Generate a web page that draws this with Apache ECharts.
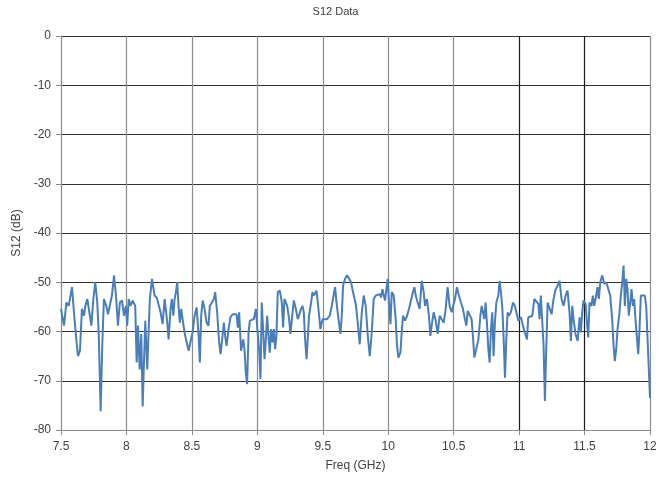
<!DOCTYPE html>
<html>
<head>
<meta charset="utf-8">
<title>S12 Data</title>
<script src="https://cdn.jsdelivr.net/npm/echarts@6/dist/echarts.min.js"></script>
<style>
  html, body { margin: 0; padding: 0; background: #fff; }
  #chart { width: 671px; height: 477px; }
</style>
</head>
<body>
<div id="chart"></div>
<script>
// Swept frequency points (GHz)
const freqGHz = [
  7.500, 7.523, 7.541, 7.559, 7.566, 7.584, 7.599, 7.617, 7.630, 7.645,
  7.660, 7.676, 7.686, 7.701, 7.716, 7.732, 7.747, 7.762, 7.777, 7.788,
  7.803, 7.815, 7.828, 7.846, 7.859, 7.874, 7.889, 7.905, 7.920, 7.935,
  7.950, 7.966, 7.981, 7.996, 8.006, 8.017, 8.032, 8.047, 8.057, 8.067,
  8.078, 8.088, 8.101, 8.113, 8.124, 8.134, 8.144, 8.159, 8.170, 8.179,
  8.195, 8.215, 8.231,
  8.246, 8.261, 8.276, 8.292, 8.302, 8.312, 8.322, 8.337, 8.347, 8.358,
  8.368, 8.378, 8.388, 8.398, 8.408, 8.419, 8.429, 8.444, 8.460, 8.475,
  8.490, 8.505, 8.521, 8.536, 8.551, 8.561, 8.571, 8.582, 8.597, 8.612,
  8.627, 8.637, 8.653, 8.668, 8.678, 8.693, 8.708, 8.719, 8.734, 8.744,
  8.754, 8.765, 8.780, 8.795, 8.811, 8.826, 8.841, 8.851, 8.861, 8.876,
  8.892, 8.902, 8.912, 8.922, 8.933, 8.943, 8.958, 8.973, 8.989,
  9.000, 9.014, 9.024, 9.034, 9.044, 9.055, 9.065, 9.075, 9.085, 9.095,
  9.105, 9.116, 9.126, 9.136, 9.146, 9.156, 9.172, 9.187, 9.197, 9.207,
  9.218, 9.228, 9.243, 9.253, 9.269, 9.279, 9.294, 9.309, 9.324, 9.334,
  9.345, 9.355, 9.365, 9.376, 9.385, 9.395, 9.411, 9.421, 9.431, 9.441,
  9.452, 9.462, 9.472, 9.482, 9.498, 9.513, 9.533, 9.553, 9.569, 9.584,
  9.594, 9.605, 9.620, 9.635, 9.645, 9.655, 9.670, 9.686, 9.701, 9.716,
  9.731,
  9.752, 9.767, 9.782, 9.798, 9.813, 9.828, 9.844, 9.859, 9.874, 9.889,
  9.905, 9.920, 9.935, 9.945, 9.956, 9.966, 9.976, 9.986, 9.996, 10.006,
  10.017, 10.027, 10.042, 10.057, 10.067, 10.078, 10.093, 10.103, 10.113, 10.128,
  10.144, 10.159, 10.174, 10.189, 10.200, 10.210, 10.225, 10.240, 10.256, 10.271,
  10.281, 10.296, 10.311, 10.322, 10.332, 10.347, 10.363, 10.378, 10.393, 10.408,
  10.424, 10.439, 10.454, 10.469, 10.485,
  10.495, 10.510, 10.525, 10.540, 10.556, 10.571, 10.586, 10.597, 10.607, 10.622,
  10.637, 10.647, 10.658, 10.673, 10.689, 10.704, 10.714, 10.724, 10.734, 10.744,
  10.754, 10.765, 10.775, 10.785, 10.795, 10.805, 10.815, 10.826, 10.841, 10.851,
  10.861, 10.872, 10.882, 10.892, 10.902, 10.912, 10.922, 10.937, 10.953, 10.968,
  10.979, 10.994, 11.004, 11.014, 11.029, 11.044, 11.060, 11.070, 11.085, 11.101,
  11.116, 11.131, 11.147, 11.156, 11.166, 11.177, 11.187, 11.197, 11.208, 11.218,
  11.233,
  11.248, 11.263, 11.279, 11.294, 11.309, 11.324, 11.340, 11.355, 11.370, 11.385,
  11.396, 11.406, 11.416, 11.431, 11.447, 11.462, 11.472, 11.482, 11.492, 11.508,
  11.518, 11.528, 11.538, 11.553, 11.563, 11.574, 11.589, 11.599, 11.609, 11.620,
  11.635, 11.650, 11.666, 11.681, 11.696, 11.711, 11.721, 11.731, 11.742, 11.752,
  11.767, 11.777, 11.788, 11.798, 11.808, 11.818, 11.828, 11.838, 11.849, 11.859,
  11.869, 11.879, 11.889, 11.899, 11.910, 11.920, 11.930, 11.945, 11.960, 11.971,
  12.000
];

// Measured S12 magnitude (dB)
const s12dB = [
  -55.4, -58.8, -54.1, -54.8, -54.4, -51.0, -56.1, -61.6, -65.0, -63.9,
  -55.4, -56.8, -54.8, -53.4, -53.1, -58.8, -53.4, -50.0, -54.1, -60.2,
  -76.2, -62.9, -53.4, -54.8, -56.5, -56.5, -52.7, -48.6, -52.7, -58.8,
  -54.1, -53.7, -56.8, -54.8, -58.8, -53.4, -54.8, -53.7, -54.1, -54.8,
  -66.3, -58.8, -67.7, -60.5, -75.2, -66.3, -57.8, -67.7, -59.5, -53.4,
  -49.3, -52.7, -53.1,
  -53.1, -56.1, -58.5, -53.4, -53.1, -58.2, -61.6, -55.4, -53.4, -56.8,
  -53.4, -52.0, -50.0, -54.8, -58.2, -55.4, -57.5, -60.2, -62.2, -63.9,
  -63.6, -60.2, -56.8, -55.1, -60.5, -66.3, -56.8, -53.7, -55.4, -58.2,
  -58.8, -54.8, -54.1, -53.4, -52.0, -56.1, -62.2, -64.6, -60.9, -58.2,
  -60.9, -62.9, -59.5, -57.1, -56.5, -56.8, -56.5, -59.2, -56.1, -63.9,
  -61.6, -63.6, -68.4, -70.7, -60.2, -57.8, -57.8, -57.5, -55.4,
  -59.5, -63.9, -69.7, -54.1, -59.5, -65.6, -61.6, -56.8, -60.9, -64.3,
  -59.5, -62.2, -59.5, -63.6, -60.9, -52.0, -51.7, -54.1, -59.2, -53.4,
  -53.1, -54.8, -57.5, -60.5, -56.1, -53.7, -55.4, -57.5, -57.1, -55.4,
  -54.8, -56.1, -61.6, -65.6, -61.6, -56.8, -54.1, -52.0, -52.7, -53.1,
  -51.7, -54.1, -56.8, -59.5, -57.5, -57.1, -57.5, -56.8, -54.8, -52.4,
  -51.0, -54.1, -57.5, -60.5, -56.8, -50.7, -49.3, -48.6, -48.6, -50.0,
  -52.0,
  -54.4, -58.2, -62.6, -56.1, -52.7, -54.8, -60.9, -65.0, -60.2, -53.4,
  -52.7, -52.7, -52.4, -53.1, -51.4, -52.7, -53.7, -51.4, -49.3, -54.1,
  -58.5, -52.0, -52.7, -57.5, -62.9, -65.3, -64.3, -60.2, -56.8, -57.8,
  -56.8, -55.4, -53.7, -52.0, -51.0, -52.7, -54.1, -55.4, -49.7, -52.0,
  -54.8, -53.4, -56.8, -60.9, -58.8, -56.1, -57.8, -60.5, -56.8, -57.5,
  -58.2, -55.4, -51.0, -54.8, -56.1,
  -55.8, -53.4, -51.0, -52.7, -54.1, -55.4, -57.5, -58.8, -55.8, -56.1,
  -57.5, -60.9, -65.3, -65.3, -61.6, -56.8, -54.8, -56.1, -57.5, -54.1,
  -58.2, -63.6, -66.3, -59.5, -56.1, -65.0, -58.2, -54.1, -52.7, -49.7,
  -52.0, -55.4, -61.6, -69.4, -61.6, -56.1, -56.8, -56.1, -54.1, -54.8,
  -56.1, -57.8, -58.2, -57.1, -58.8, -60.2, -61.6, -57.1, -56.8, -56.8,
  -53.4, -53.4, -54.4, -57.5, -52.7, -52.4, -62.9, -74.1, -62.9, -54.1,
  -53.7,
  -56.5, -53.4, -51.4, -50.7, -49.7, -53.4, -54.8, -52.7, -51.7, -56.1,
  -61.9, -54.8, -57.5, -60.5, -61.9, -57.1, -60.2, -56.1, -53.7, -54.4,
  -58.2, -61.2, -54.1, -54.8, -52.7, -54.8, -52.7, -51.0, -53.4, -50.0,
  -48.6, -50.3, -50.0, -50.3, -52.7, -57.5, -62.6, -66.0, -63.6, -59.5,
  -56.1, -52.7, -50.0, -46.6, -54.8, -49.3, -51.4, -56.8, -54.1, -51.4,
  -54.8, -53.4, -57.5, -60.9, -64.6, -59.5, -52.7, -52.4, -52.7, -54.8,
  -73.5
];

// Axis ranges and tick steps
const freqTicks = [7.5, 12, 0.5];   // min, max, step
const dbTicks = [-80, 0, 10];        // min, max, step

const chart = echarts.init(document.getElementById('chart'), null, { renderer: 'canvas' });

const textColor = '#404040';
const font = '"Liberation Sans", Arial, sans-serif';

// Vertical grid lines: the two at 11 and 11.5 GHz are drawn darker
const vGridColors = ['#8c8c8c', '#8c8c8c', '#8c8c8c', '#8c8c8c', '#8c8c8c',
                     '#8c8c8c', '#8c8c8c', '#1a1a1a', '#1a1a1a', '#8c8c8c'];
const hGridColors = ['#8c8c8c', '#333', '#333', '#333', '#333', '#333', '#333', '#333', '#333'];

const option = {
  backgroundColor: '#ffffff',
  animation: false,
  textStyle: { fontFamily: font },
  title: {
    text: 'S12 Data',
    left: 'center',
    top: 1,
    textStyle: { fontSize: 11, fontWeight: 'normal', color: textColor, fontFamily: font }
  },
  grid: { left: 61, right: 21, top: 36, bottom: 47, containLabel: false },
  xAxis: {
    type: 'value',
    min: freqTicks[0],
    max: freqTicks[1],
    interval: freqTicks[2],
    name: 'Freq (GHz)',
    nameLocation: 'middle',
    nameGap: 30,
    nameTextStyle: { fontSize: 12, color: textColor, fontFamily: font },
    axisLine: { show: true, onZero: false, lineStyle: { color: '#8c8c8c', width: 1 } },
    axisTick: { show: true, length: 5, lineStyle: { color: '#8c8c8c' } },
    axisLabel: { fontSize: 12, color: textColor, margin: 11, fontFamily: font,
                 formatter: v => String(+v.toFixed(1)) },
    splitLine: { show: true, showMinLine: true, showMaxLine: true,
                 lineStyle: { color: vGridColors, width: 1.2 } }
  },
  yAxis: {
    type: 'value',
    min: dbTicks[0],
    max: dbTicks[1],
    interval: dbTicks[2],
    name: 'S12 (dB)',
    nameLocation: 'middle',
    nameGap: 35,
    nameRotate: 90,
    nameTextStyle: { fontSize: 12, color: textColor, fontFamily: font },
    axisLine: { show: true, onZero: false, lineStyle: { color: '#8c8c8c', width: 1 } },
    axisTick: { show: true, length: 5, lineStyle: { color: '#8c8c8c' } },
    axisLabel: { fontSize: 12, color: textColor, margin: 10, fontFamily: font },
    splitLine: { show: true, showMinLine: true, showMaxLine: true,
                 lineStyle: { color: hGridColors, width: 1.2 } }
  },
  series: [{
    name: 'S12',
    type: 'line',
    data: freqGHz.map((f, i) => [f, s12dB[i]]),
    showSymbol: false,
    smooth: false,
    lineStyle: { color: '#4a7ebb', width: 2 },
    itemStyle: { color: '#4a7ebb' },
    clip: true
  }]
};

chart.setOption(option);
</script>
</body>
</html>
